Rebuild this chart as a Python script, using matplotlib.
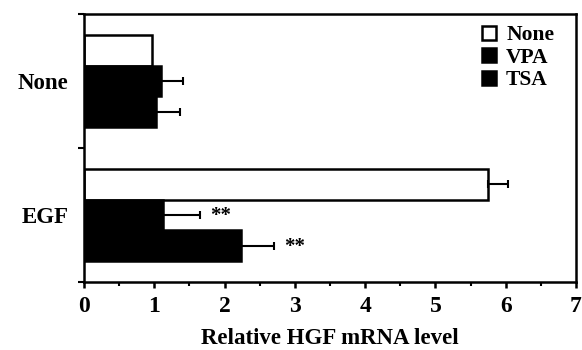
import matplotlib
matplotlib.use("Agg")
import matplotlib.pyplot as plt
import numpy as np

plt.rcParams['font.family'] = ['Liberation Serif', 'DejaVu Serif']
plt.rcParams['font.weight'] = 'bold'

groups = ["EGF", "None"]
series = ["None", "VPA", "TSA"]
values = {
    "None": [5.75, 0.97],
    "VPA": [1.12, 1.10],
    "TSA": [2.23, 1.03],
}
errors = {
    "None": [0.28, 0.0],
    "VPA": [0.53, 0.31],
    "TSA": [0.48, 0.33],
}
stars = {"VPA": ["**", ""], "TSA": ["**", ""]}
facecolors = {"None": "white", "VPA": "black", "TSA": "black"}

fig = plt.figure(figsize=(5.82, 3.5), dpi=100)
ax = fig.add_axes([84/582, 1-282/350, (576-84)/582, (282-14)/350])

centers = np.array([0.5, 1.5])
h = 0.23
offsets = {"None": h, "VPA": 0.0, "TSA": -h}
for s in series:
    y = centers + offsets[s]
    ax.barh(y, values[s], height=h, color=facecolors[s], edgecolor='black',
            linewidth=1.8, label=s)
    for yi, v, e in zip(y, values[s], errors[s]):
        if e > 0:
            ax.errorbar(v, yi, xerr=[[0], [e]], fmt='none', ecolor='black',
                        elinewidth=1.5, capsize=3, capthick=1.5)
    if s in stars:
        for yi, v, e, st in zip(y, values[s], errors[s], stars[s]):
            if st:
                ax.text(v + e + 0.14, yi - 0.01, st, fontsize=15, fontweight='bold',
                        va='center', ha='left')

ax.set_xlim(0, 7)
ax.set_ylim(0, 2)
ax.set_xticks(range(0, 8))
ax.set_xticks(np.arange(0.5, 7, 1), minor=True)
ax.set_yticks([0, 1, 2])
ax.set_yticklabels([])
ax.set_yticks(centers, minor=True)
ax.set_yticklabels(groups, minor=True, fontsize=16.5, fontweight='bold')
ax.tick_params(axis='y', which='minor', length=0, pad=11)
ax.tick_params(axis='y', which='major', length=4, width=1.5, direction='out')
ax.tick_params(axis='x', which='major', length=4, width=1.8, direction='out', labelsize=17, pad=6)
ax.tick_params(axis='x', which='minor', length=3, width=1.5, direction='out')
for sp in ax.spines.values():
    sp.set_linewidth(1.8)

ax.set_xlabel("Relative HGF mRNA level", fontsize=16.5, fontweight='bold', labelpad=8)

leg = ax.legend(loc='upper right', frameon=False, fontsize=15.5, handlelength=0.65,
                handleheight=0.65, handletextpad=0.45, labelspacing=0.12,
                borderaxespad=0.0, bbox_to_anchor=(0.973, 0.99))

fig.savefig("out.png", dpi=100)
